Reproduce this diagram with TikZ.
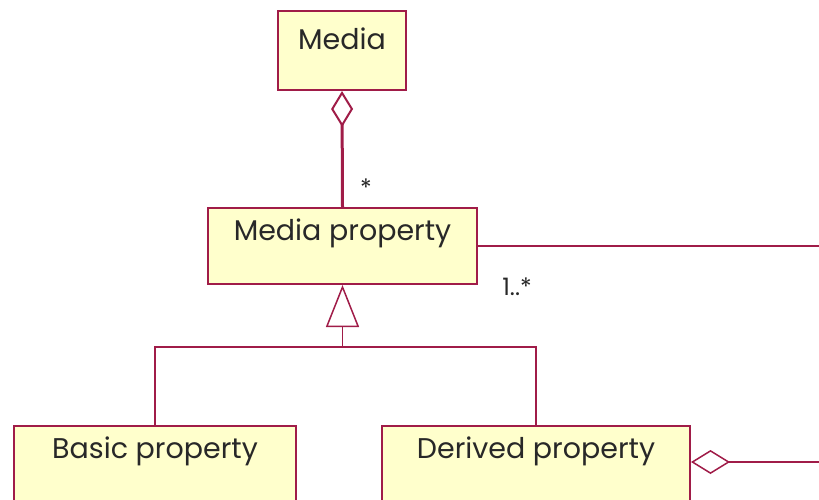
\documentclass[tikz,border=0pt]{standalone}
\usepackage{fontspec}
\setmainfont{Poppins}
\usetikzlibrary{arrows.meta,calc}
\definecolor{umlline}{RGB}{160,28,72}
\definecolor{umlfill}{RGB}{255,255,204}
\definecolor{umltxt}{RGB}{40,40,40}
\tikzset{
  classbox/.style={draw=umlline, line width=2pt, fill=umlfill, rectangle, inner sep=0pt, anchor=north west},
  classname/.style={text=umltxt, font=\fontsize{28.5}{32}\selectfont, inner sep=0pt, anchor=center},
  mult/.style={text=umltxt, font=\fontsize{24}{26}\selectfont, inner sep=0pt},
  link/.style={draw=umlline, line width=1.5pt}
}
\begin{document}
\begin{tikzpicture}[x=1pt,y=-1pt]
\useasboundingbox (0,0) rectangle (819,499);
\clip (0,0) rectangle (819,499);

% class boxes
\node[classbox, minimum width=128pt, minimum height=79pt] (media) at (277,10) {};
\node[classbox, minimum width=269pt, minimum height=76pt] (prop) at (207,207) {};
\node[classbox, minimum width=282pt, minimum height=90pt] (basic) at (13,425) {};
\node[classbox, minimum width=308pt, minimum height=90pt] (derived) at (381,425) {};

% class names
\node[classname] (mediaT) at ($(media.north)+(0,29)$) {Media};
\node[classname] (propT) at ($(prop.north)+(0,26)$) {Media property};
\node[classname] (basicT) at ($(basic.north)+(0,26)$) {Basic property};
\node[classname] (derivedT) at ($(derived.north)+(0,26)$) {Derived property};

% aggregation Media <>-- Media property
\draw[link, line width=3pt, {Diamond[length=36pt, width=22pt, fill=white, line width=2pt]}-] (media.south) -- (prop.north);
\node[mult] (starTop) at (366,188) {*};

% generalisation
\coordinate (junction) at ($(prop.south)+(0,62)$);
\draw[link, -{Triangle[length=42pt, width=33pt, fill=white, line width=1.5pt]}] (junction) -- (prop.south);
\draw[link] (basic.north) |- (junction) -| (derived.north);

% association leaving to the right
\coordinate (eastEnd) at (819,0 |- prop.east);
\draw[link] (prop.east) -- (eastEnd);
\node[mult] (multProp) at (517,287) {1..*};

% aggregation on Derived property
\coordinate (derivedAgg) at ($(derived.north east)+(0,37)$);
\coordinate (derivedEnd) at (819,0 |- derivedAgg);
\draw[link, {Diamond[length=39pt, width=24pt, fill=white, line width=1.5pt]}-] (derivedAgg) -- (derivedEnd);
\end{tikzpicture}
\end{document}
